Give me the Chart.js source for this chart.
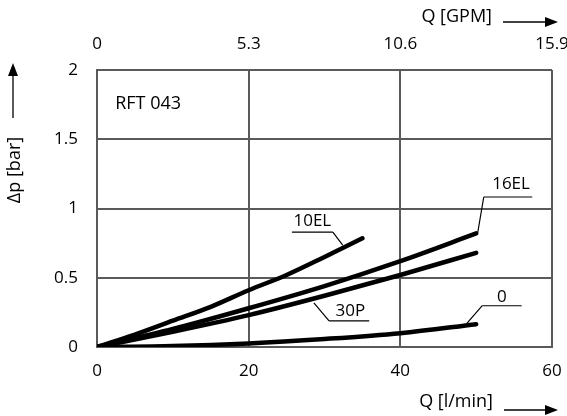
<!DOCTYPE html>
<html>
<head>
<meta charset="utf-8">
<script src="https://cdn.jsdelivr.net/npm/chart.js@4"></script>
<style>
  html, body { margin: 0; padding: 0; background: #fff; }
  #wrap { width: 567px; height: 416px; }
</style>
</head>
<body>
<div id="wrap"><canvas id="grafico"></canvas></div>
<script>
const seriesNames = ["10EL", "16EL", "30P", "0"];
const q10EL = [0, 5, 10, 15, 20, 25, 30, 35];
const dp10EL = [0, 0.09, 0.19, 0.29, 0.41, 0.52, 0.65, 0.785];
const q16EL = [0, 10, 20, 30, 40, 50];
const dp16EL = [0, 0.13, 0.28, 0.44, 0.62, 0.82];
const q30P = [0, 10, 20, 30, 40, 50];
const dp30P = [0, 0.11, 0.23, 0.37, 0.52, 0.68];
const q0 = [0, 10, 20, 30, 40, 50];
const dp0 = [0, 0.007, 0.026, 0.058, 0.1, 0.165];

const lminTicks = [0, 20, 40, 60];
const gpmTicks = [0, 5.3, 10.6, 15.9];
const dpTicks = [0, 0.5, 1, 1.5, 2];

// etiquetas de las curvas: texto, subrayado y linea guia (en unidades de datos)
const labelText = ["10EL", "16EL", "30P", "0"];
const labelPos = [[28.4, 0.91], [54.6, 1.177], [33.4, 0.26], [53.4, 0.361]];
const underlineY = [0.83, 1.083, 0.188, 0.298];
const underlineX = [[25.7, 31.1], [51.0, 57.4], [30.6, 35.9], [50.8, 56.0]];
const leaderStart = [[31.1, 0.83], [51.0, 1.083], [30.6, 0.188], [50.8, 0.298]];
const leaderEnd = [[32.4, 0.736], [50.2, 0.823], [28.6, 0.318], [48.8, 0.173]];

const FONT = "'Open Sans', 'DejaVu Sans', sans-serif";

function toPoints(xs, ys) {
  return xs.map((x, i) => ({ x: x, y: ys[i] }));
}

function arrow(ctx, x1, y1, x2, y2) {
  const ang = Math.atan2(y2 - y1, x2 - x1);
  const head = 13, half = 5;
  ctx.beginPath();
  ctx.moveTo(x1, y1);
  ctx.lineTo(x2 - head * Math.cos(ang), y2 - head * Math.sin(ang));
  ctx.lineWidth = 1.3;
  ctx.stroke();
  ctx.beginPath();
  ctx.moveTo(x2, y2);
  ctx.lineTo(x2 - head * Math.cos(ang) - half * Math.sin(ang), y2 - head * Math.sin(ang) + half * Math.cos(ang));
  ctx.lineTo(x2 - head * Math.cos(ang) + half * Math.sin(ang), y2 - head * Math.sin(ang) - half * Math.cos(ang));
  ctx.closePath();
  ctx.fill();
}

const anotaciones = {
  id: "anotaciones",
  afterDraw(chart) {
    const ctx = chart.ctx;
    const sx = chart.scales.x, sy = chart.scales.y;
    ctx.save();
    ctx.fillStyle = "#000";
    ctx.strokeStyle = "#000";

    // nombre del filtro
    ctx.font = "18px " + FONT;
    ctx.textAlign = "left";
    ctx.textBaseline = "middle";
    ctx.fillText("RFT 043", sx.getPixelForValue(2.4), sy.getPixelForValue(1.755));

    // etiquetas de curvas
    labelText.forEach((t, i) => {
      ctx.font = "17px " + FONT;
      ctx.textAlign = "center";
      ctx.textBaseline = "middle";
      ctx.fillText(t, sx.getPixelForValue(labelPos[i][0]), sy.getPixelForValue(labelPos[i][1]));
      ctx.lineWidth = 1.2;
      ctx.beginPath();
      ctx.moveTo(sx.getPixelForValue(underlineX[i][0]), sy.getPixelForValue(underlineY[i]));
      ctx.lineTo(sx.getPixelForValue(underlineX[i][1]), sy.getPixelForValue(underlineY[i]));
      ctx.moveTo(sx.getPixelForValue(leaderStart[i][0]), sy.getPixelForValue(leaderStart[i][1]));
      ctx.lineTo(sx.getPixelForValue(leaderEnd[i][0]), sy.getPixelForValue(leaderEnd[i][1]));
      ctx.stroke();
    });

    // titulos de ejes con flechas
    ctx.font = "18px " + FONT;
    ctx.textAlign = "right";
    ctx.textBaseline = "middle";
    ctx.fillText("Q [GPM]", 492, 17);
    arrow(ctx, 503, 22, 558, 22);
    ctx.fillText("Q [l/min]", 493, 402);
    arrow(ctx, 504, 410, 558, 410);

    ctx.save();
    ctx.translate(15, 170);
    ctx.rotate(-Math.PI / 2);
    ctx.textAlign = "center";
    ctx.fillText("\u0394p [bar]", 0, 0);
    ctx.restore();
    arrow(ctx, 13, 118, 13, 63);

    ctx.restore();
  }
};

const datasets = [
  toPoints(q10EL, dp10EL),
  toPoints(q16EL, dp16EL),
  toPoints(q30P, dp30P),
  toPoints(q0, dp0)
].map((pts, i) => ({
  label: seriesNames[i],
  data: pts,
  borderColor: "#000",
  borderWidth: 4.5,
  borderCapStyle: "round",
  borderJoinStyle: "round",
  pointRadius: 0,
  cubicInterpolationMode: "monotone",
  fill: false
}));

const gridStyle = { color: "#5a5a5a", lineWidth: 2, drawTicks: false };
const tickFont = { family: FONT, size: 17 };

function fixHoriz(h) {
  return (s) => { s.height = h; s.paddingLeft = 0; s.paddingRight = 0; };
}

new Chart(document.getElementById("grafico"), {
  type: "line",
  data: { datasets: datasets },
  options: {
    responsive: true,
    maintainAspectRatio: false,
    animation: false,
    layout: { padding: { left: 0, right: 15, top: 0, bottom: 0 } },
    plugins: { legend: { display: false }, tooltip: { enabled: false } },
    scales: {
      x: {
        type: "linear",
        position: "bottom",
        min: 0,
        max: 60,
        afterBuildTicks: (s) => { s.ticks = lminTicks.map((v) => ({ value: v })); },
        afterFit: fixHoriz(69),
        grid: gridStyle,
        border: { color: "#5a5a5a", width: 2 },
        ticks: { font: tickFont, color: "#000", padding: 14, maxRotation: 0 }
      },
      xTop: {
        type: "linear",
        position: "top",
        min: 0,
        max: 15.9,
        afterBuildTicks: (s) => { s.ticks = gpmTicks.map((v) => ({ value: v })); },
        afterFit: fixHoriz(70),
        grid: { display: false, drawTicks: false },
        border: { display: false },
        ticks: { font: tickFont, color: "#000", padding: 16, maxRotation: 0,
          callback: (v) => String(v) }
      },
      y: {
        type: "linear",
        min: 0,
        max: 2,
        afterBuildTicks: (s) => { s.ticks = dpTicks.map((v) => ({ value: v })); },
        afterFit: (s) => { s.width = 97; s.paddingTop = 0; s.paddingBottom = 0; },
        grid: gridStyle,
        border: { color: "#5a5a5a", width: 2 },
        ticks: { font: tickFont, color: "#000", padding: 19, callback: (v) => String(v) }
      }
    }
  },
  plugins: [anotaciones]
});
</script>
</body>
</html>
